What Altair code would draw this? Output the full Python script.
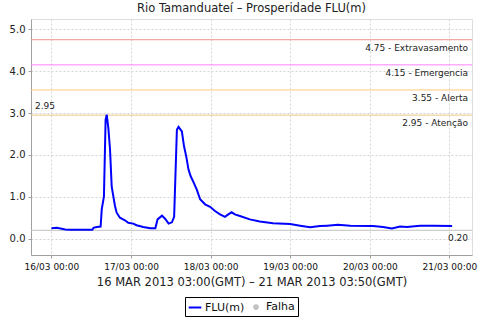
import altair as alt
import pandas as pd

# ---- data ----
times = [
    "2013-03-16T00:00", "2013-03-16T01:40", "2013-03-16T04:10", "2013-03-16T05:40",
    "2013-03-16T12:20", "2013-03-16T12:40", "2013-03-16T13:40", "2013-03-16T14:50",
    "2013-03-16T15:10", "2013-03-16T15:50", "2013-03-16T16:20", "2013-03-16T16:40",
    "2013-03-16T17:10", "2013-03-16T17:40", "2013-03-16T18:10", "2013-03-16T18:40",
    "2013-03-16T19:10", "2013-03-16T19:40", "2013-03-16T20:40", "2013-03-16T22:10",
    "2013-03-16T23:10", "2013-03-17T00:40", "2013-03-17T01:40", "2013-03-17T03:40",
    "2013-03-17T05:50", "2013-03-17T07:20", "2013-03-17T08:00", "2013-03-17T09:20",
    "2013-03-17T10:20", "2013-03-17T11:20", "2013-03-17T12:20", "2013-03-17T13:00",
    "2013-03-17T13:50", "2013-03-17T14:20", "2013-03-17T15:20", "2013-03-17T16:00",
    "2013-03-17T16:40", "2013-03-17T17:20", "2013-03-17T18:00", "2013-03-17T18:50",
    "2013-03-17T19:50", "2013-03-17T20:50", "2013-03-17T22:20", "2013-03-17T23:50",
    "2013-03-18T01:20", "2013-03-18T02:50", "2013-03-18T04:20", "2013-03-18T05:20",
    "2013-03-18T06:20", "2013-03-18T07:20", "2013-03-18T08:50", "2013-03-18T11:50",
    "2013-03-18T14:50", "2013-03-18T18:50", "2013-03-19T00:00", "2013-03-19T03:00",
    "2013-03-19T06:00", "2013-03-19T09:00", "2013-03-19T11:10", "2013-03-19T14:20",
    "2013-03-19T18:10", "2013-03-20T01:00", "2013-03-20T04:00", "2013-03-20T06:40",
    "2013-03-20T09:10", "2013-03-20T11:10", "2013-03-20T15:10", "2013-03-20T19:10",
    "2013-03-21T00:50",
]
levels = [
    0.25, 0.26, 0.22, 0.21,
    0.21, 0.26, 0.28, 0.29,
    0.70, 1.01, 2.84, 2.96,
    2.64, 2.13, 1.25, 1.01,
    0.78, 0.62, 0.50, 0.44,
    0.38, 0.36, 0.32, 0.28,
    0.25, 0.25, 0.46, 0.55,
    0.47, 0.36, 0.39, 0.52,
    2.60, 2.67, 2.56, 2.20,
    1.96, 1.65, 1.49, 1.35,
    1.17, 0.94, 0.82, 0.76,
    0.66, 0.58, 0.52, 0.58,
    0.63, 0.58, 0.54, 0.46,
    0.41, 0.37, 0.35, 0.31,
    0.27, 0.30, 0.31, 0.33,
    0.31, 0.30, 0.28, 0.245,
    0.29, 0.28, 0.31, 0.31,
    0.30,
]
threshold_values = [4.75, 4.15, 3.55, 2.95, 0.20]
threshold_labels = ["4.75 - Extravasamento", "4.15 - Emergencia", "3.55 - Alerta",
                    "2.95 - Atenção", "0.20"]
series_names = ["FLU(m)", "Falha"]
y_ticks = [0.0, 0.5, 1.0, 1.5, 2.0, 2.5, 3.0, 3.5, 4.0, 4.5, 5.0]
x_tick_days = [16, 17, 18, 19, 20, 21]
title_text = "Rio Tamanduateí – Prosperidade FLU(m)"
x_title = "16 MAR 2013 03:00(GMT) – 21 MAR 2013 03:50(GMT)"

# ---- styles ----
threshold_colors = ["#f09090", "#ff80ff", "#ffc878", "#e6c882", "#c0c0c0"]
series_colors = ["#0000ff", "#c0c0c0"]
legend_shapes = ["M-1.05,0L1.05,0",
                 "M-0.3,0a0.3,0.3 0 1,0 0.6,0a0.3,0.3 0 1,0 -0.6,0Z"
                 "M-0.12,0a0.12,0.12 0 1,0 0.24,0a0.12,0.12 0 1,0 -0.24,0Z"]
W, H = 441, 236
FONT = "DejaVu Sans"

df = pd.DataFrame({"t": times, "v": levels, "s": series_names[0]})
leg_df = pd.DataFrame({"s": series_names})

x_scale = alt.Scale(domain=[alt.DateTime(year=2013, month=3, date=15, hours=17, minutes=50),
                            alt.DateTime(year=2013, month=3, date=21, hours=6, minutes=50)])
y_scale = alt.Scale(domain=[-0.39, 5.245], nice=False, zero=False)
color_scale = alt.Scale(domain=series_names, range=series_colors)

x_axis = alt.Axis(values=[alt.DateTime(year=2013, month=3, date=d) for d in x_tick_days],
                  format="%d/%m %H:%M", title=x_title, labelFontSize=9,
                  titleFontSize=11.5, titleFontWeight="normal", titlePadding=5,
                  labelPadding=4, tickSize=3, gridDash=[2, 2], gridColor="#d4d4d4",
                  labelColor="#111", titleColor="#222", domainColor="#a0a0a0",
                  tickColor="#a0a0a0", labelFont=FONT, titleFont=FONT, labelFlush=False)
y_axis = alt.Axis(values=y_ticks, format=".1f", title=None, labelFontSize=10,
                  labelPadding=3, tickSize=3, gridDash=[2, 2], gridColor="#d4d4d4",
                  labelColor="#222", domainColor="#a0a0a0", tickColor="#a0a0a0",
                  labelFont=FONT)

legend = alt.Legend(
    title=None, orient="none", legendX=154, legendY=278, direction="horizontal",
    strokeColor="black", padding=3, labelFontSize=11, labelFont=FONT, labelColor="#111",
    columnPadding=4, labelOffset=3, cornerRadius=0, fillColor="white",
    symbolSize=144, symbolStrokeWidth=2, symbolOpacity=1,
)

line = alt.Chart(df).mark_line(strokeWidth=2, clip=True).encode(
    x=alt.X("t:T", scale=x_scale, axis=x_axis),
    y=alt.Y("v:Q", scale=y_scale, axis=y_axis),
    color=alt.Color("s:N", scale=color_scale, legend=legend),
)

leg_pts = alt.Chart(leg_df).mark_point(opacity=0, filled=False).encode(
    color=alt.Color("s:N", scale=color_scale, legend=legend),
    shape=alt.Shape("s:N", scale=alt.Scale(domain=series_names, range=legend_shapes),
                    legend=legend),
)

layers = []
for val, lab, col in zip(threshold_values, threshold_labels, threshold_colors):
    d = pd.DataFrame({"v": [val], "label": [lab]})
    rule = alt.Chart(d).mark_rule(color=col, strokeWidth=1).encode(
        y=alt.Y("v:Q", scale=y_scale))
    txt = alt.Chart(d).mark_text(align="right", baseline="middle", dx=-4, dy=8,
                                 fontSize=9, font=FONT, color="#222").encode(
        y=alt.Y("v:Q", scale=y_scale), x=alt.value(W), text="label:N")
    layers += [rule, txt]

att = pd.DataFrame({"v": [threshold_values[3]], "label": ["%.2f" % threshold_values[3]]})
att_txt = alt.Chart(att).mark_text(align="left", baseline="middle", dx=4, dy=-9,
                                   fontSize=9, font=FONT, color="#222").encode(
    y=alt.Y("v:Q", scale=y_scale), x=alt.value(0), text="label:N")

chart = alt.layer(*layers, att_txt, line, leg_pts).properties(
    width=W, height=H,
    title=alt.TitleParams(title_text, fontSize=11.5, fontWeight="normal", font=FONT,
                          color="#222", offset=5),
    autosize=alt.AutoSizeParams(type="none"),
    padding={"left": 31, "top": 19, "right": 8, "bottom": 65},
).configure_view(stroke="#a0a0a0").configure(background="white")

chart.save("out.html", embed_options={"renderer": "svg", "actions": False})
